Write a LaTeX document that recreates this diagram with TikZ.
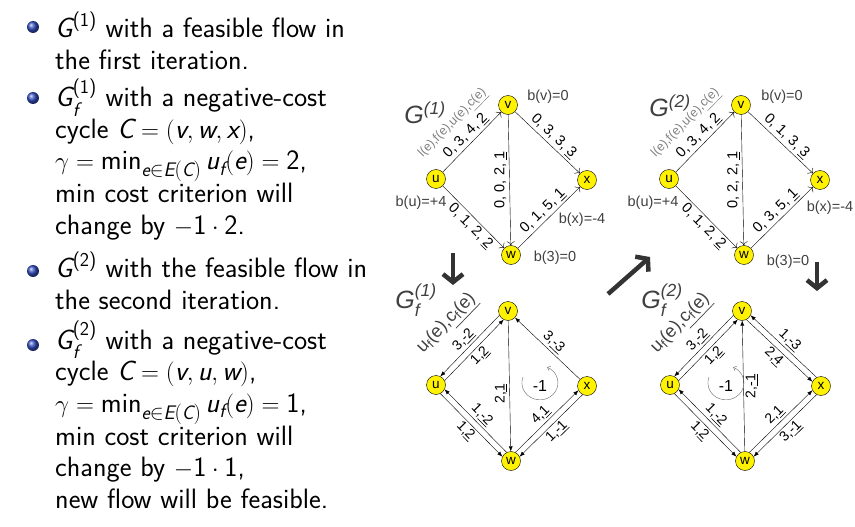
\documentclass[tikz,border=0pt]{standalone}
\usepackage{amsmath}
\usepackage{fontspec}
\usetikzlibrary{arrows.meta}
\newfontfamily\lbfont{Liberation Sans}
\definecolor{ballblue}{rgb}{0.2,0.3,0.75}
\definecolor{txtgray}{HTML}{404040}
\newcommand{\mi}[1]{\textit{#1}}
\newcommand{\mup}[1]{\textup{#1}}

\tikzset{
  vert/.style={circle, draw, fill=yellow, minimum size=19pt, inner sep=0pt, font=\lbfont\fontsize{13.5}{13.5}\selectfont},
  elbl/.style={font=\lbfont\fontsize{14.5}{14.5}\selectfont, inner sep=2pt},
  rlbl/.style={font=\lbfont\fontsize{14}{14}\selectfont, inner sep=2pt},
  blbl/.style={font=\lbfont\fontsize{14.5}{14.5}\selectfont, text=txtgray},
  hdr/.style={font=\lbfont\fontsize{12.5}{12.5}\selectfont, text=gray, inner sep=1pt},
  rhdr/.style={font=\lbfont\fontsize{18}{18}\selectfont, text=txtgray, inner sep=1pt},
  ttl/.style={font=\lbfont\itshape\fontsize{25}{25}\selectfont, text=txtgray},
  gedge/.style={-{To[length=4pt,width=8pt]}},
  redge/.style={-{Latex[length=5pt,width=4pt]}},
  bigarr/.style={line width=4.5pt, draw=txtgray!80!black, -{Straight Barb[length=8pt,width=20pt]}},
  cyc/.style={draw=gray!80!black, thin, -{To[length=3pt,width=5pt]}},
  item/.style={anchor=base west, align=left, inner sep=0pt, font=\sffamily\fontsize{28}{31.5}\selectfont},
  ball/.style={circle, shading=ball, ball color=ballblue, minimum size=12pt, inner sep=0pt}
}

\begin{document}
\begin{tikzpicture}[x=1pt,y=-1pt]
\useasboundingbox (0,0) rectangle (855,527);

% bullet list (each node anchored at the baseline of its last line)
\node[ball] (b1) at (33,27) {};
\node[item] (t1) at (55,69.5) {$\mi{G}^{\mup{(1)}}$ with a feasible flow in\\the first iteration.};
\node[ball] (b2) at (33,98) {};
\node[item] (t2) at (55,234) {$\mi{G}_{\mi{f}}^{\mup{(1)}}$ with a negative-cost\\cycle $\mi{C}=(\mi{v},\mi{w},\mi{x})$,\\$\gamma=\mup{min}_{\mi{e}\in\mi{E}(\mi{C})}\,\mi{u}_{\mi{f}}(\mi{e})=\mup{2}$,\\min cost criterion will\\change by $-\mup{1}\cdot\mup{2}$.};
\node[ball] (b3) at (33,271) {};
\node[item] (t3) at (55,309) {$\mi{G}^{\mup{(2)}}$ with the feasible flow in\\the second iteration.};
\node[ball] (b4) at (33,345) {};
\node[item] (t4) at (55,508) {$\mi{G}_{\mi{f}}^{\mup{(2)}}$ with a negative-cost\\cycle $\mi{C}=(\mi{v},\mi{u},\mi{w})$,\\$\gamma=\mup{min}_{\mi{e}\in\mi{E}(\mi{C})}\,\mi{u}_{\mi{f}}(\mi{e})=\mup{1}$,\\min cost criterion will\\change by $-\mup{1}\cdot\mup{1}$,\\new flow will be feasible.};

% vertices of the four graphs
\foreach \n/\dx/\dy in {1/0/0, 2/233/0, f1/0/206, f2/234/206} {
  \node[vert] (u\n) at (436+\dx,179+\dy) {u};
  \node[vert] (v\n) at (508+\dx,105+\dy) {v};
  \node[vert] (x\n) at (587+\dx,180+\dy) {x};
  \node[vert] (w\n) at (511+\dx,255+\dy) {w};
}

% G(1)
\node[ttl] (g1) at (425,113) {G$^{\text{(1)}}$};
\draw[gedge] (u1) -- node[elbl, sloped, above] {0, 3, 4, \underline{2}}
  node[hdr, sloped, above=18pt] {l(e),f(e),u(e),\underline{c(e)}} (v1);
\draw[gedge] (v1) -- node[elbl, sloped, above] {0, 3, 3, \underline{3}} (x1);
\draw[gedge] (v1) -- node[elbl, rotate=90, above] {0, 0, 2, \underline{1}} (w1);
\draw[gedge] (u1) -- node[elbl, sloped, below, pos=0.55] {0, 1, 2, \underline{2}} (w1);
\draw[gedge] (w1) -- node[elbl, sloped, above] {0, 1, 5, \underline{1}} (x1);
\node[blbl] (bv1) at (548,97) {b(v)=0};
\node[blbl] (bu1) at (421,203) {b(u)=+4};
\node[blbl] (bx1) at (582,220) {b(x)=-4};
\node[blbl] (bw1) at (555,258) {b(3)=0};

% G(2)
\node[ttl] (g2) at (670,106) {G$^{\text{(2)}}$};
\draw[gedge] (u2) -- node[elbl, sloped, above] {0, 3, 4, \underline{2}}
  node[hdr, sloped, above=18pt] {l(e),f(e),u(e),\underline{c(e)}} (v2);
\draw[gedge] (v2) -- node[elbl, sloped, above] {0, 1, 3, \underline{3}} (x2);
\draw[gedge] (v2) -- node[elbl, rotate=90, above] {0, 2, 2, \underline{1}} (w2);
\draw[gedge] (u2) -- node[elbl, sloped, below, pos=0.55] {0, 1, 2, \underline{2}} (w2);
\draw[gedge] (w2) -- node[elbl, sloped, above] {0, 3, 5, \underline{1}} (x2);
\node[blbl] (bv2) at (782,97) {b(v)=0};
\node[blbl] (bu2) at (653,203) {b(u)=+4};
\node[blbl] (bx2) at (830,208) {b(x)=-4};
\node[blbl] (bw2) at (788,262) {b(3)=0};

% residual graph Gf(1)
\node[ttl] (gf1) at (416,300) {G$_{\text{f}}^{\text{(1)}}$};
\draw[redge] (vf1.207) -- node[rlbl, sloped, above] {3,\underline{-2}}
  node[rhdr, sloped, above=20pt] {u$_{\text{f}}$(e),\underline{c$_{\text{f}}$(e)}} (uf1.63);
\draw[redge] (uf1.27) -- node[rlbl, sloped, below] {1,\underline{2}} (vf1.243);
\draw[redge] (vf1) -- node[rlbl, rotate=90, above, pos=0.56] {2,\underline{1}} (wf1);
\draw[redge] (xf1) -- node[rlbl, sloped, above] {3,\underline{-3}} (vf1);
\draw[redge] (wf1.117) -- node[rlbl, sloped, above] {1,\underline{-2}} (uf1.-27);
\draw[redge] (uf1.-63) -- node[rlbl, sloped, below] {1,\underline{2}} (wf1.153);
\draw[redge] (wf1.63) -- node[rlbl, sloped, above] {4,\underline{1}} (xf1.207);
\draw[redge] (xf1.243) -- node[rlbl, sloped, below] {1,\underline{-1}} (wf1.27);
\node[rlbl, font=\lbfont\fontsize{16}{16}\selectfont] (c1) at (540,386) {-1};
\draw[cyc] (c1) ++(-17,-9) arc[start angle=-160, end angle=-426, x radius=18, y radius=17];

% residual graph Gf(2)
\node[ttl] (gf2) at (662,300) {G$_{\text{f}}^{\text{(2)}}$};
\draw[redge] (vf2.207) -- node[rlbl, sloped, above] {3,\underline{-2}}
  node[rhdr, sloped, above=20pt] {u$_{\text{f}}$(e),\underline{c$_{\text{f}}$(e)}} (uf2.63);
\draw[redge] (uf2.27) -- node[rlbl, sloped, below] {1,\underline{2}} (vf2.243);
\draw[redge] (xf2.117) -- node[rlbl, sloped, above] {1,\underline{-3}} (vf2.-27);
\draw[redge] (vf2.-63) -- node[rlbl, sloped, below] {2,\underline{4}} (xf2.153);
\draw[redge] (wf2) -- node[rlbl, rotate=90, below] {2,\underline{-1}} (vf2);
\draw[redge] (wf2.117) -- node[rlbl, sloped, above] {1,\underline{-2}} (uf2.-27);
\draw[redge] (uf2.-63) -- node[rlbl, sloped, below] {1,\underline{2}} (wf2.153);
\draw[redge] (wf2.63) -- node[rlbl, sloped, above] {2,\underline{1}} (xf2.207);
\draw[redge] (xf2.243) -- node[rlbl, sloped, below] {3,\underline{-1}} (wf2.27);
\node[rlbl, font=\lbfont\fontsize{16}{16}\selectfont] (c2) at (726,386) {-1};
\draw[cyc] (c2) ++(-17,-9) arc[start angle=-160, end angle=-426, x radius=18, y radius=17];

% big arrows between the steps
\coordinate (s1) at (453,253);
\coordinate (e1) at (453,285);
\coordinate (s2) at (608,294);
\coordinate (e2) at (650,257);
\coordinate (s3) at (817,262);
\coordinate (e3) at (817,291);
\draw[bigarr] (s1) -- (e1);
\draw[bigarr] (s2) -- (e2);
\draw[bigarr] (s3) -- (e3);
\end{tikzpicture}
\end{document}
